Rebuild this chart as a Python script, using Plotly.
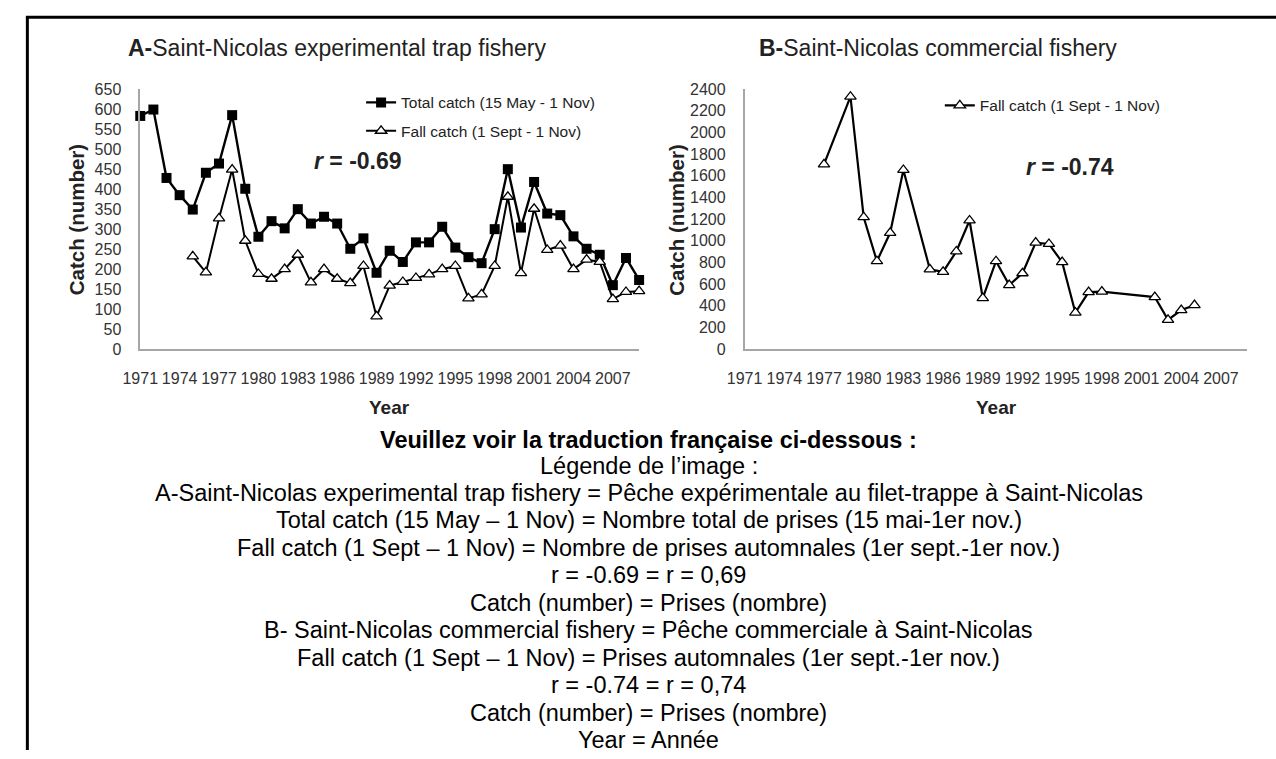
import plotly.graph_objects as go

W, H = 1276, 759

# ---------------- data ----------------
years_a = list(range(1971, 2010))
total_a = [583, 599, 428, 385, 349, 441, 464, 585, 401, 281,
           320, 302, 350, 314, 331, 314, 251, 277, 191, 246,
           218, 267, 267, 306, 254, 230, 215, 300, 450, 304,
           418, 339, 335, 282, 251, 236, 160, 228, 173]
fall_a = [None, None, None, None, 232, 192, 327, 449, 271, 188,
          176, 200, 236, 167, 200, 176, 165, 208, 82, 159,
          168, 178, 187, 200, 208, 127, 137, 208, 381, 190,
          351, 248, 259, 200, 224, 218, 125, 143, 145]

years_b = [1977, 1979, 1980, 1981, 1982, 1983, 1985, 1986, 1987, 1988,
           1989, 1990, 1991, 1992, 1993, 1994, 1995, 1996, 1997, 1998,
           2002, 2003, 2004, 2005]
fall_b = [1705, 2330, 1218, 812, 1074, 1654, 737, 713, 902, 1188,
          472, 812, 592, 701, 983, 971, 803, 337, 526, 532,
          481, 271, 361, 406]

tick_years = list(range(1971, 2008, 3))
ticks_a = list(range(0, 651, 50))
ticks_b = list(range(0, 2401, 200))

name_total = "Total catch (15 May - 1 Nov)"
name_fall = "Fall catch (1 Sept - 1 Nov)"

french_lines = [
    "Légende de l’image :",
    "A-Saint-Nicolas experimental trap fishery = Pêche expérimentale au filet-trappe à Saint-Nicolas",
    "Total catch (15 May – 1 Nov) = Nombre total de prises (15 mai-1er nov.)",
    "Fall catch (1 Sept – 1 Nov) = Nombre de prises automnales (1er sept.-1er nov.)",
    "r = -0.69 = r = 0,69",
    "Catch (number) = Prises (nombre)",
    "B- Saint-Nicolas commercial fishery = Pêche commerciale à Saint-Nicolas",
    "Fall catch (1 Sept – 1 Nov) = Prises automnales (1er sept.-1er nov.)",
    "r = -0.74 = r = 0,74",
    "Catch (number) = Prises (nombre)",
    "Year = Année",
]
french_head = "Veuillez voir la traduction française ci-dessous :"

# ---------------- helpers ----------------
def px(x):
    return x / W

def py(y):
    return 1 - y / H

FONT = "Arial, 'Liberation Sans', Helvetica, sans-serif"
AXIS_GREY = "#a6a6a6"
TICK_COL = "#333333"

fig = go.Figure()

fig.add_trace(go.Scatter(
    x=years_a, y=total_a, mode="lines+markers", name=name_total,
    line=dict(color="black", width=2.4),
    marker=dict(symbol="square", size=10, color="black"),
    xaxis="x", yaxis="y", legend="legend", cliponaxis=False))

fig.add_trace(go.Scatter(
    x=years_a, y=fall_a, mode="lines+markers", name=name_fall,
    line=dict(color="black", width=2),
    marker=dict(symbol="triangle-up", size=10, color="white",
                line=dict(color="black", width=1.3)),
    xaxis="x", yaxis="y", legend="legend2", cliponaxis=False))

fig.add_trace(go.Scatter(
    x=years_b, y=fall_b, mode="lines+markers", name=name_fall,
    line=dict(color="black", width=2.2),
    marker=dict(symbol="triangle-up", size=10, color="white",
                line=dict(color="black", width=1.3)),
    xaxis="x2", yaxis="y2", legend="legend3", cliponaxis=False))

xcommon = dict(range=[1971, 2009], tickvals=tick_years, showline=True,
               linecolor=AXIS_GREY, linewidth=1.5, showgrid=False,
               zeroline=False, ticks="", ticklabelstandoff=14,
               tickfont=dict(size=16, color=TICK_COL, family=FONT))
ycommon = dict(showline=True, linecolor=AXIS_GREY, linewidth=1.5,
               showgrid=False, zeroline=False, ticks="",
               ticklabelstandoff=14,
               tickfont=dict(size=16, color=TICK_COL, family=FONT))

ydom = [py(349), py(83)]

fig.update_layout(
    width=W, height=H,
    margin=dict(l=0, r=0, t=0, b=0),
    paper_bgcolor="white", plot_bgcolor="white",
    font=dict(family=FONT, color="#222222"),
    showlegend=True,
    xaxis=dict(domain=[px(124), px(630)], anchor="y", **xcommon),
    yaxis=dict(domain=ydom, anchor="x", range=[0, 650], tickvals=ticks_a, **ycommon),
    xaxis2=dict(domain=[px(737), px(1247)], anchor="y2", **xcommon),
    yaxis2=dict(domain=ydom, anchor="x2", range=[0, 2400], tickvals=ticks_b, **ycommon),
    legend=dict(x=px(348), y=py(97), xanchor="left", yanchor="middle",
                bgcolor="rgba(0,0,0,0)", font=dict(size=15.5, color="#222222"),
                borderwidth=0, itemwidth=30),
    legend2=dict(x=px(348), y=py(126), xanchor="left", yanchor="middle",
                 bgcolor="rgba(0,0,0,0)", font=dict(size=15.5, color="#222222"),
                 borderwidth=0, itemwidth=30),
    legend3=dict(x=px(935), y=py(100), xanchor="left", yanchor="middle",
                 bgcolor="rgba(0,0,0,0)", font=dict(size=15.5, color="#222222"),
                 borderwidth=0, itemwidth=30),
)

ann = []
def add(text, x, y, size, xanchor="center", angle=0, color="#222222"):
    ann.append(dict(text=text, x=px(x), y=py(y), xref="paper", yref="paper",
                    xanchor=xanchor, yanchor="middle", showarrow=False,
                    textangle=angle, font=dict(size=size, color=color, family=FONT)))

add("<b>A-</b>Saint-Nicolas experimental trap fishery", 110, 41, 23, xanchor="left")
add("<b>B-</b>Saint-Nicolas commercial fishery", 750, 41, 23, xanchor="left")
add("<b>Catch (number)</b>", 59, 217, 20.5, angle=-90)
add("<b>Catch (number)</b>", 668, 217, 20.5, angle=-90)
add("<b>Year</b>", 377, 409, 19)
add("<b>Year</b>", 992, 409, 19)
add("<b><i>r</i> = -0.69</b>", 345, 156, 23)
add("<b><i>r</i> = -0.74</b>", 1067, 163, 23)

add("<b>" + french_head + "</b>", 640, 442, 23.5, color="#000000")
for i, line in enumerate(french_lines):
    add(line, 640, 468 + i * 28.1, 23.5, color="#000000")

fig.update_layout(annotations=ann)

# page frame (left and top rule)
fig.add_shape(type="line", xref="paper", yref="paper",
              x0=px(9.5), x1=px(9.5), y0=0, y1=py(9.5),
              line=dict(color="black", width=3))
fig.add_shape(type="line", xref="paper", yref="paper",
              x0=px(8), x1=1, y0=py(9.5), y1=py(9.5),
              line=dict(color="black", width=3))

fig.write_html("out.html",
               config={"displayModeBar": False},
               post_script="document.body.style.margin='0px';")
